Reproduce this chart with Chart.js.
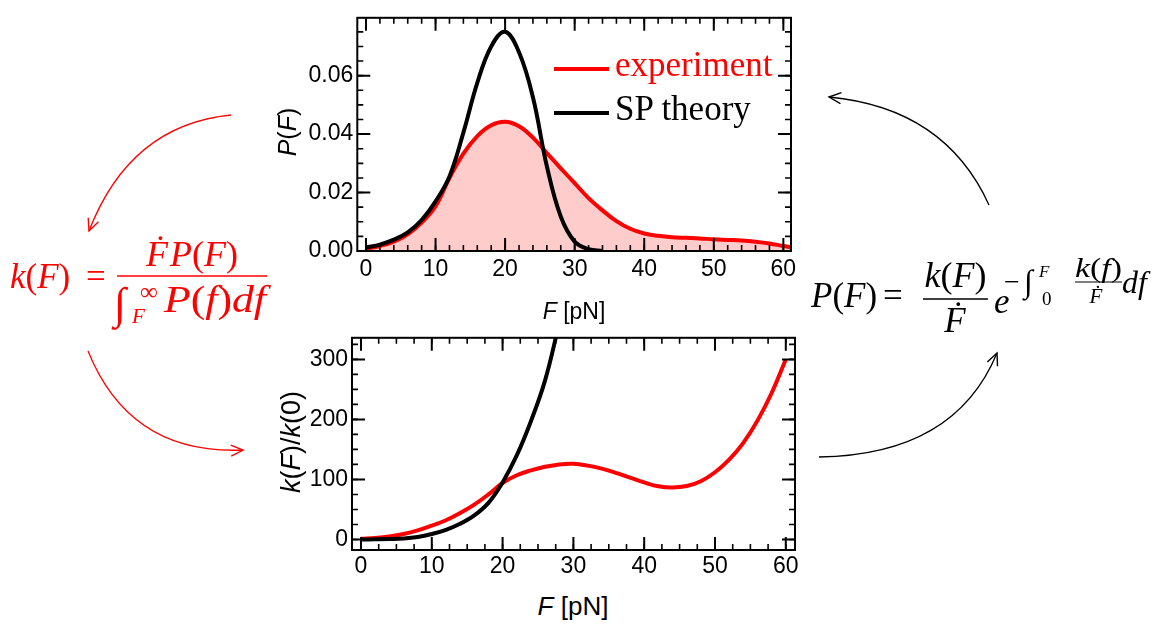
<!DOCTYPE html>
<html lang="en">
<head>
<meta charset="UTF-8">
<title>P(F) and k(F)</title>
<script src="https://cdn.jsdelivr.net/npm/chart.js"></script>
<style>
  body {
    margin: 0;
    background: #fff;
    width: 1163px;
    height: 624px;
    position: relative;
    overflow: hidden;
    font-family: "Liberation Sans", Arial, sans-serif;
  }
  canvas { position: absolute; }
  #topChart { left: 260px; top: 0; }
  #bottomChart { left: 260px; top: 320px; }
  .axis-title {
    position: absolute;
    white-space: nowrap;
    color: #000;
    line-height: 1;
    transform: translate(-50%, -50%);
  }
  .axis-title.rot { transform: translate(-50%, -50%) rotate(-90deg); }
  #legend {
    position: absolute;
    left: 554px;
    top: 47px;
    font-family: "Liberation Serif", "Times New Roman", serif;
    font-size: 35px;
  }
  .leg-row { display: flex; align-items: center; height: 44px; }
  .leg-line { width: 55px; height: 4px; margin-right: 6px; }
  .leg-text { line-height: 44px; position: relative; top: -4px; }
  #overlay { position: absolute; left: 0; top: 0; }
  #overlay text { font-family: "Liberation Serif", "DejaVu Serif", serif; }
</style>
</head>
<body>
<canvas id="topChart" width="560" height="300"></canvas>
<canvas id="bottomChart" width="565" height="260"></canvas>

<div class="axis-title" style="left:574px; top:311px; font-size:23px;"><i>F</i> [pN]</div>
<div class="axis-title rot" style="left:287px; top:132px; font-size:25px;"><i>P</i>(<i>F</i>)</div>
<div class="axis-title" style="left:573px; top:606px; font-size:26px;"><i>F</i> [pN]</div>
<div class="axis-title rot" style="left:291px; top:442px; font-size:27px;"><i>k</i>(<i>F</i>)/<i>k</i>(0)</div>

<div id="legend"></div>

<svg id="overlay" width="1163" height="624">
  <defs>
    <marker id="headRed" markerWidth="16" markerHeight="14" refX="13" refY="7" orient="auto" markerUnits="userSpaceOnUse">
      <path d="M1,1.5 L13,7 L1,12.5" fill="none" stroke="#f00" stroke-width="1.4"/>
    </marker>
    <marker id="headBlack" markerWidth="16" markerHeight="14" refX="13" refY="7" orient="auto" markerUnits="userSpaceOnUse">
      <path d="M1,1.5 L13,7 L1,12.5" fill="none" stroke="#000" stroke-width="1.4"/>
    </marker>
  </defs>

  <!-- arrows -->
  <path d="M231,115 Q130,125 89,231" fill="none" stroke="#f00" stroke-width="1.3" marker-end="url(#headRed)"/>
  <path d="M88,351 Q130,455 243,450" fill="none" stroke="#f00" stroke-width="1.3" marker-end="url(#headRed)"/>
  <path d="M819,457 Q955,455 997,353" fill="none" stroke="#000" stroke-width="1.3" marker-end="url(#headBlack)"/>
  <path d="M989,205 Q945,108 829,97" fill="none" stroke="#000" stroke-width="1.3" marker-end="url(#headBlack)"/>

  <!-- k(F) = F' P(F) / int_F^inf P(f) df -->
  <g fill="#f00">
    <text x="10" y="288" font-size="35"><tspan font-style="italic">k</tspan>(<tspan font-style="italic">F</tspan>)</text>
    <text x="86" y="288" font-size="35">=</text>
    <line x1="117" y1="276" x2="267" y2="276" stroke="#f00" stroke-width="1.6"/>
    <text x="192" y="266" font-size="36" text-anchor="middle"><tspan font-style="italic">Ḟ</tspan><tspan font-style="italic" dx="2">P</tspan>(<tspan font-style="italic">F</tspan>)</text>
    <text x="114" y="318" font-size="44" font-style="italic">∫</text>
    <text x="132" y="323" font-size="21" font-style="italic">F</text>
    <text x="140" y="300" font-size="25">∞</text>
    <text x="164" y="312" font-size="37" textLength="102" lengthAdjust="spacingAndGlyphs"><tspan font-style="italic">P</tspan>(<tspan font-style="italic">f</tspan>)<tspan font-style="italic">df</tspan></text>
  </g>

  <!-- P(F) = k(F)/F' exp(-int_0^F k(f)/F' df) -->
  <g fill="#000">
    <text x="811" y="307" font-size="35"><tspan font-style="italic">P</tspan>(<tspan font-style="italic">F</tspan>)</text>
    <text x="883" y="307" font-size="35">=</text>
    <line x1="923" y1="299" x2="988" y2="299" stroke="#000" stroke-width="1.6"/>
    <text x="955.5" y="287" font-size="36" text-anchor="middle"><tspan font-style="italic">k</tspan>(<tspan font-style="italic">F</tspan>)</text>
    <text x="955" y="332" font-size="35" text-anchor="middle" font-style="italic">Ḟ</text>
    <text x="994" y="313" font-size="35" font-style="italic">e</text>
    <text x="1004" y="291" font-size="28">−</text>
    <text x="1024" y="292" font-size="32" font-style="italic">∫</text>
    <text x="1039" y="277" font-size="17" font-style="italic">F</text>
    <text x="1042" y="305" font-size="19">0</text>
    <text x="1075" y="277" font-size="27" textLength="47" lengthAdjust="spacingAndGlyphs"><tspan font-style="italic">k</tspan>(<tspan font-style="italic">f</tspan>)</text>
    <line x1="1075" y1="282" x2="1122" y2="282" stroke="#000" stroke-width="1.2"/>
    <text x="1096" y="303" font-size="21" text-anchor="middle" font-style="italic">Ḟ</text>
    <text x="1122" y="293" font-size="32" font-style="italic">df</text>
  </g>
</svg>

<script>
// top panel: rupture force distribution P(F)
const F_EXPERIMENT_P = [0, 2, 4, 6, 8, 10, 12, 14, 16, 18, 20, 22, 24, 26, 28, 30,
    32, 34, 36, 38, 40, 42, 44, 46, 48, 50, 52, 54, 56, 58, 60, 61];
const P_EXPERIMENT = [0.0008, 0.0017, 0.0032, 0.0057, 0.0097, 0.0153, 0.0250, 0.0333,
    0.0393, 0.0430, 0.0442, 0.0427, 0.0388, 0.0335, 0.0283, 0.0232,
    0.0181, 0.0139, 0.0102, 0.0076, 0.0060, 0.0052, 0.0047, 0.0045,
    0.0043, 0.0040, 0.0038, 0.0036, 0.0032, 0.0026, 0.0017, 0.0013];
const F_THEORY_P = [0, 2, 4, 6, 8, 10, 12, 14, 16, 18, 20, 22, 24, 26, 28, 30, 32, 34];
const P_THEORY = [0.0012, 0.0022, 0.0039, 0.0064, 0.0106, 0.0170, 0.0255, 0.0405,
    0.0575, 0.0700, 0.0750, 0.0680, 0.0526, 0.0290, 0.0118, 0.0032, 0.0006, 0];

// bottom panel: force dependent rate k(F)/k(0)
const F_EXPERIMENT_K = [0, 2, 4, 6, 8, 10, 12, 14, 16, 18, 20, 22, 24, 26, 28, 30,
    32, 34, 36, 38, 40, 42, 44, 46, 48, 50, 52, 54, 56, 58, 60];
const K_EXPERIMENT = [1, 2.5, 5, 9, 15, 23, 32, 44, 58, 75, 94, 107, 115, 121, 125, 126,
    123, 118, 111, 103, 95, 88.5, 86.5, 89, 97, 112, 133, 161, 198, 244, 300];
const F_THEORY_K = [0, 2, 4, 6, 8, 10, 12, 14, 16, 18, 20, 22, 24, 26, 28];
const K_THEORY = [0, 0.2, 0.6, 1.5, 4, 9, 16, 26, 40, 61, 95, 140, 197, 265, 360];

const F_TICKS = [0, 10, 20, 30, 40, 50, 60];
const P_TICKS = [0, 0.02, 0.04, 0.06];
const K_TICKS = [0, 100, 200, 300];

const SERIES_NAMES = ['experiment', 'SP theory'];
const SERIES_COLORS = ['#ff0000', '#000000'];

const FONT = {family: '"Liberation Sans", Arial, sans-serif', size: 23};

function points(xs, ys) {
    return xs.map((x, i) => ({x: x, y: ys[i]}));
}

// closed frame with inward major/minor ticks on all four sides
const framePlugin = {
    id: 'frame',
    afterDraw(chart, args, opts) {
        const ctx = chart.ctx;
        const a = chart.chartArea;
        const xs = chart.scales.x, ys = chart.scales.y;
        ctx.save();
        ctx.strokeStyle = '#000';

        function xTick(v, len, w) {
            const p = xs.getPixelForValue(v);
            if (p < a.left - 0.5 || p > a.right + 0.5) return;
            ctx.lineWidth = w;
            ctx.beginPath();
            ctx.moveTo(p, a.bottom); ctx.lineTo(p, a.bottom - len);
            ctx.moveTo(p, a.top); ctx.lineTo(p, a.top + len);
            ctx.stroke();
        }
        function yTick(v, len, w) {
            const p = ys.getPixelForValue(v);
            if (p < a.top - 0.5 || p > a.bottom + 0.5) return;
            ctx.lineWidth = w;
            ctx.beginPath();
            ctx.moveTo(a.left, p); ctx.lineTo(a.left + len, p);
            ctx.moveTo(a.right, p); ctx.lineTo(a.right - len, p);
            ctx.stroke();
        }

        for (let i = Math.ceil(xs.min / opts.minorX); i * opts.minorX <= xs.max; i++) {
            xTick(i * opts.minorX, 6, 1.6);
        }
        for (let i = Math.ceil(ys.min / opts.minorY); i * opts.minorY <= ys.max; i++) {
            yTick(i * opts.minorY, 6, 1.6);
        }
        xs.ticks.forEach(t => xTick(t.value, 13, 2));
        ys.ticks.forEach(t => yTick(t.value, 13, 2));

        ctx.lineWidth = 2;
        ctx.strokeRect(a.left, a.top, a.right - a.left, a.bottom - a.top);
        ctx.restore();
    }
};

function makeScales(xr, yr, ticksY, fmtY, yWidth, xHeight, xPad) {
    return {
        x: {
            type: 'linear', min: xr[0], max: xr[1],
            grid: {display: false, drawTicks: false},
            border: {display: false},
            afterBuildTicks: s => { s.ticks = F_TICKS.map(v => ({value: v})); },
            afterFit: s => { s.height = xHeight; },
            ticks: {font: FONT, color: '#000', padding: xPad, maxRotation: 0, autoSkip: false}
        },
        y: {
            type: 'linear', min: yr[0], max: yr[1],
            grid: {display: false, drawTicks: false},
            border: {display: false},
            afterBuildTicks: s => { s.ticks = ticksY.map(v => ({value: v})); },
            afterFit: s => { s.width = yWidth; },
            ticks: {font: FONT, color: '#000', padding: 4, callback: fmtY}
        }
    };
}

function lineSet(name, color, data, fill) {
    return {
        label: name,
        data: data,
        borderColor: color,
        backgroundColor: fill ? 'rgba(255, 0, 0, 0.2)' : color,
        borderWidth: 4,
        pointRadius: 0,
        tension: 0.4,
        fill: fill ? 'origin' : false
    };
}

const common = {
    responsive: false,
    animation: false,
    events: [],
    plugins: {legend: {display: false}, tooltip: {enabled: false}}
};

new Chart(document.getElementById('topChart'), {
    type: 'line',
    data: {
        datasets: [
            lineSet(SERIES_NAMES[1], SERIES_COLORS[1], points(F_THEORY_P, P_THEORY), false),
            lineSet(SERIES_NAMES[0], SERIES_COLORS[0], points(F_EXPERIMENT_P, P_EXPERIMENT), true)
        ]
    },
    options: Object.assign({}, common, {
        layout: {padding: {left: 0, right: 29, top: 11.7, bottom: 0}},
        scales: makeScales([-1.25, 61.1], [0, 0.0798], P_TICKS, v => v.toFixed(2), 97.3, 49, 5),
        plugins: Object.assign({}, common.plugins, {frame: {minorX: 2, minorY: 0.005}})
    }),
    plugins: [framePlugin]
});

new Chart(document.getElementById('bottomChart'), {
    type: 'line',
    data: {
        datasets: [
            lineSet(SERIES_NAMES[1], SERIES_COLORS[1], points(F_THEORY_K, K_THEORY), false),
            lineSet(SERIES_NAMES[0], SERIES_COLORS[0], points(F_EXPERIMENT_K, K_EXPERIMENT), false)
        ]
    },
    options: Object.assign({}, common, {
        layout: {padding: {left: 0, right: 30, top: 9.5, bottom: 0}},
        scales: makeScales([-1.27, 61.3], [-17.6, 336], K_TICKS, v => String(v), 92, 30, 3),
        plugins: Object.assign({}, common.plugins, {frame: {minorX: 2.5, minorY: 25}})
    }),
    plugins: [framePlugin]
});

// legend inside the top panel
const legend = document.getElementById('legend');
SERIES_NAMES.forEach((name, i) => {
    const row = document.createElement('div');
    row.className = 'leg-row';
    const line = document.createElement('div');
    line.className = 'leg-line';
    line.style.background = SERIES_COLORS[i];
    const text = document.createElement('span');
    text.className = 'leg-text';
    text.style.color = SERIES_COLORS[i];
    text.textContent = name;
    row.appendChild(line);
    row.appendChild(text);
    legend.appendChild(row);
});
</script>
</body>
</html>
